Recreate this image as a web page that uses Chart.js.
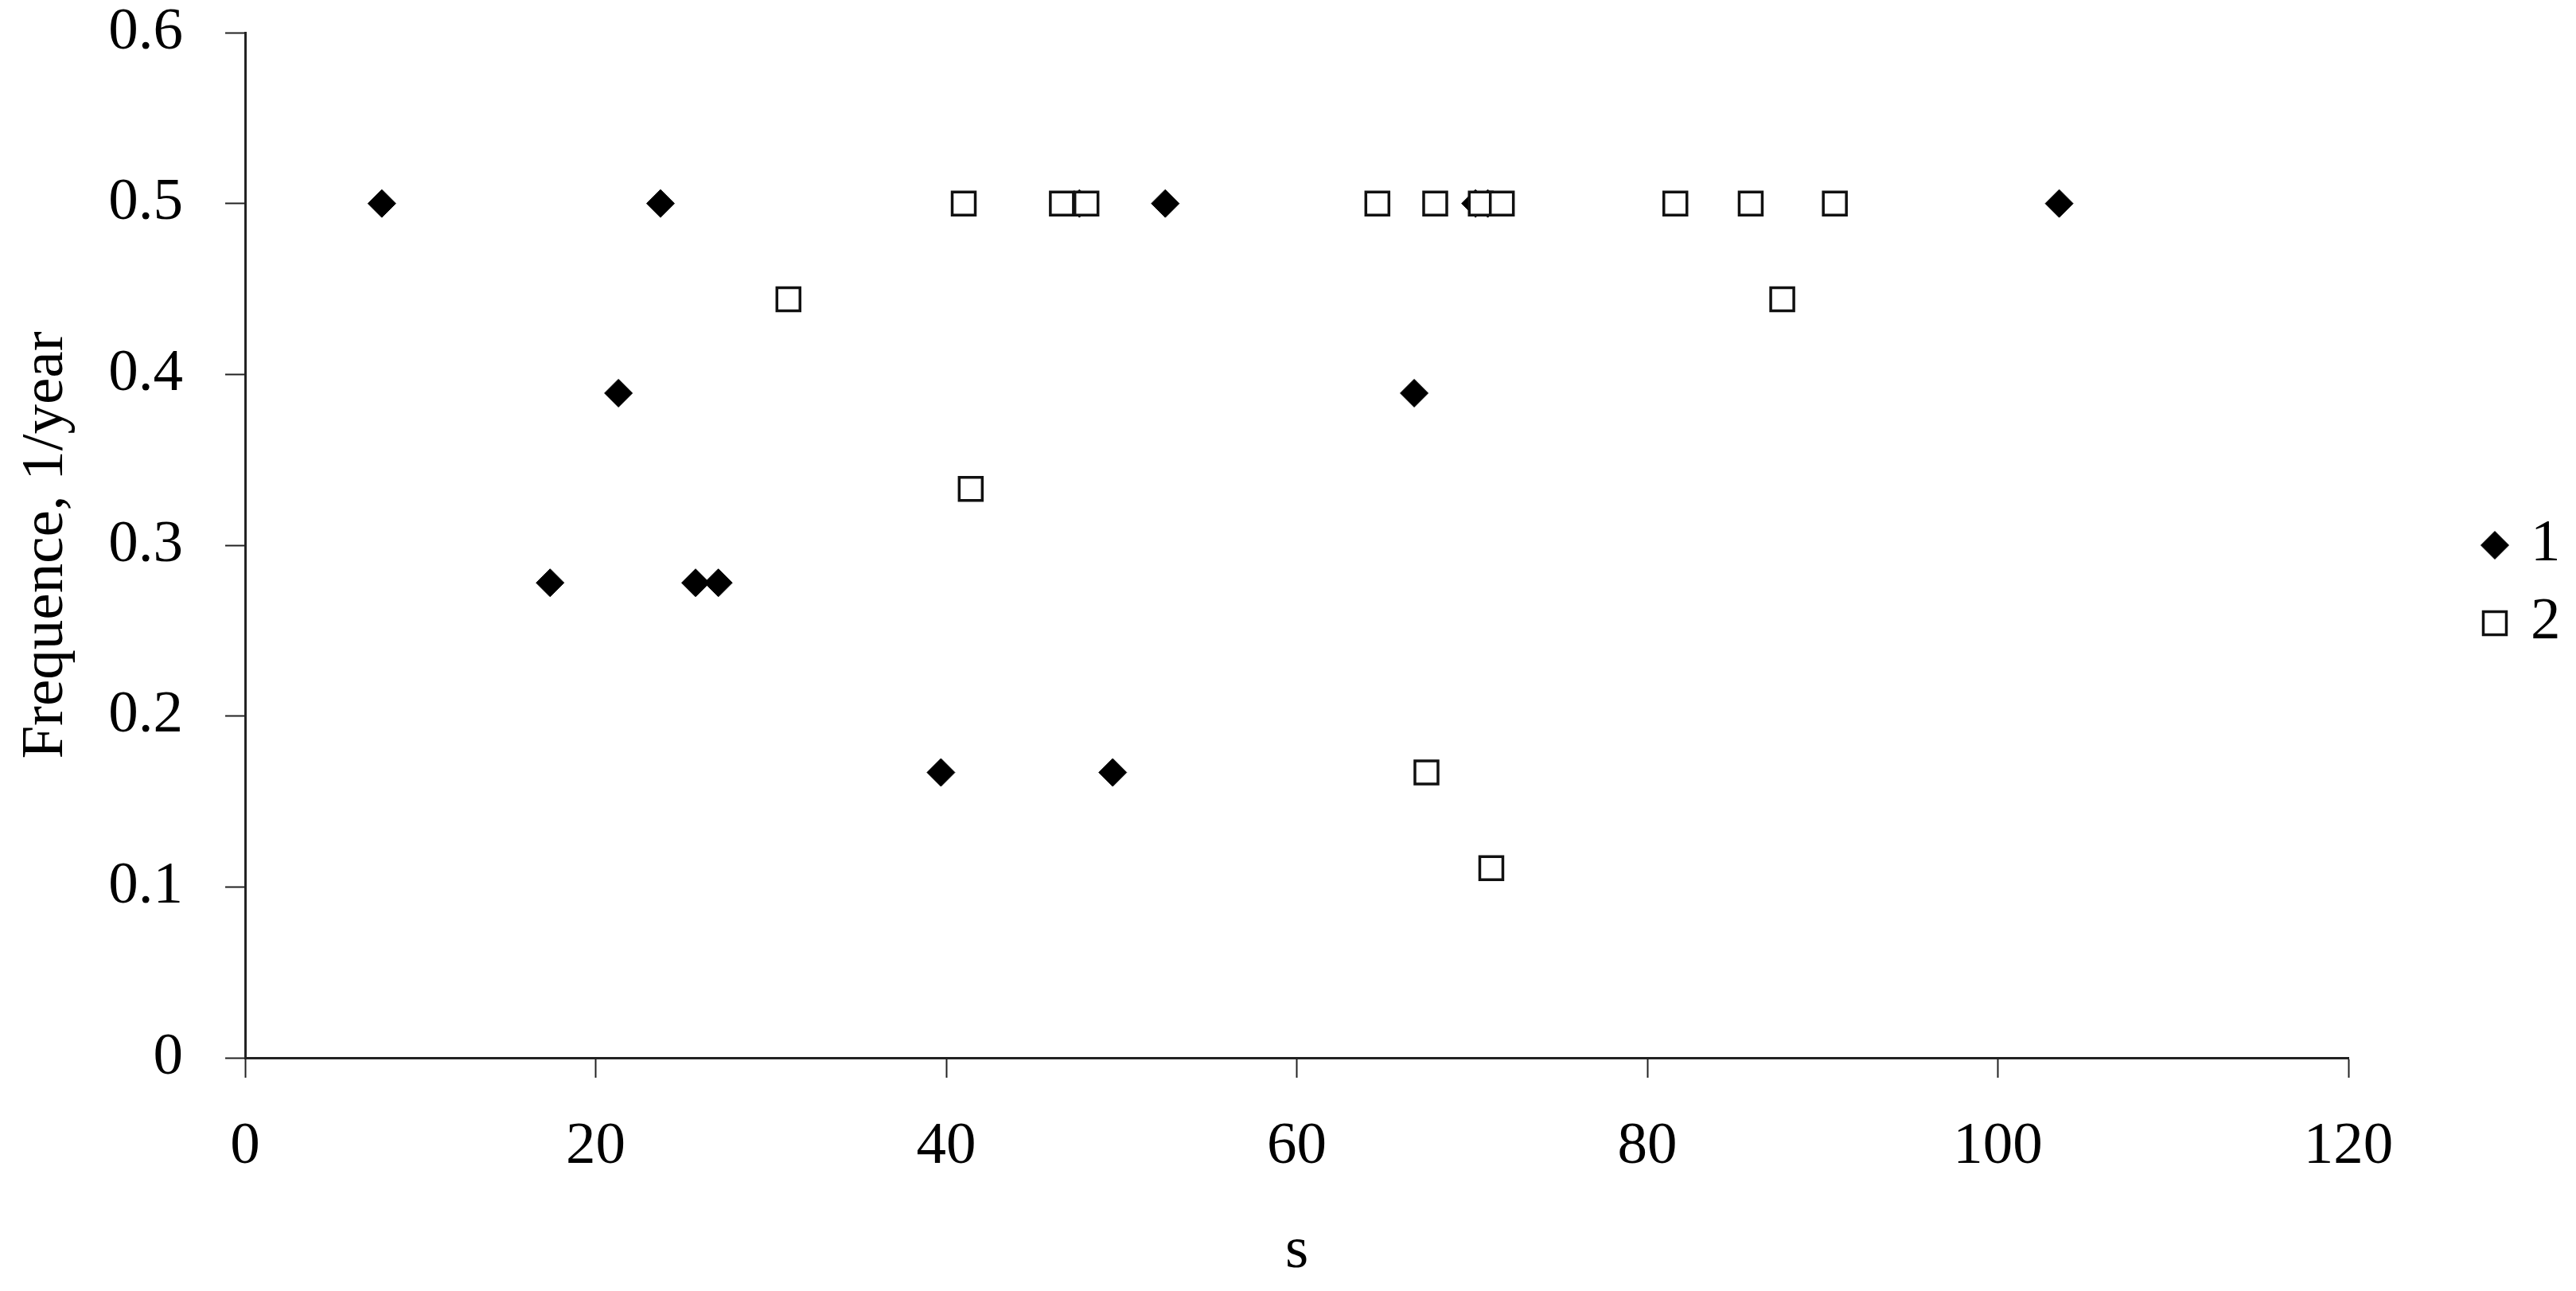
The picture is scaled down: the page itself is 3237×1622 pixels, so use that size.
<!DOCTYPE html>
<html>
<head>
<meta charset="utf-8">
<title>Frequence vs s</title>
<script src="https://cdn.jsdelivr.net/npm/chart.js@4/dist/chart.umd.min.js"></script>
<style>
  html,body{margin:0;padding:0;background:#fff;}
  #wrap{width:3237px;height:1622px;}
</style>
</head>
<body>
<div id="wrap"><canvas id="ch" width="3237" height="1622"></canvas></div>
<script>
// ===== data =====
// series 1: filled diamonds
const s1Label='1';
const s1X=[7.8,17.4,21.3,23.7,25.7,27.0,39.7,47.6,49.5,52.5,66.7,70.2,70.9,103.5];
const s1Y=[0.5,0.278,0.389,0.5,0.278,0.278,0.167,0.5,0.167,0.5,0.389,0.5,0.5,0.5];
// series 2: hollow squares
const s2Label='2';
const s2X=[31.0,41.0,41.4,46.6,48.0,64.6,67.4,67.9,70.5,71.1,71.7,81.6,85.9,87.7,90.7];
const s2Y=[0.444,0.5,0.333,0.5,0.5,0.5,0.167,0.5,0.5,0.111,0.5,0.5,0.5,0.444,0.5];
// axes
const xTicks=[0,20,40,60,80,100,120];
const xTickLabels=['0','20','40','60','80','100','120'];
const yTicks=[0,0.1,0.2,0.3,0.4,0.5,0.6];
const yTickLabels=['0','0.1','0.2','0.3','0.4','0.5','0.6'];
const xTitle='s';
const yTitle='Frequence, 1/year';

// ===== style =====
const FONT_FAMILY="'Liberation Serif','Times New Roman',serif";
const INK='#000', AXIS='#222';
const pts=(xs,ys)=>xs.map((x,i)=>({x,y:ys[i]}));
const lblOf=(vals,labels)=>v=>{ const i=vals.findIndex(t=>Math.abs(t-v)<1e-9); return i<0?'':labels[i]; };
// fixed plot box: no extra room taken for overhanging tick labels
const noPad=s=>{ s.paddingTop=0; s.paddingBottom=0; s.paddingLeft=0; s.paddingRight=0; };

// legend drawn at the right of the plot, like the original
const sideLegend={
  id:'sideLegend',
  afterDraw(chart){
    const {ctx,chartArea}=chart;
    const rows=[{dy:0},{dy:98}];
    ctx.save();
    chart.data.datasets.forEach((ds,i)=>{
      const cx=chartArea.right+184, cy=685+rows[i].dy;
      ctx.fillStyle=ds.backgroundColor; ctx.strokeStyle=ds.borderColor; ctx.lineWidth=ds.borderWidth;
      Chart.helpers.drawPoint(ctx,{pointStyle:ds.pointStyle,radius:ds.pointRadius,borderWidth:ds.borderWidth,rotation:0},cx,cy);
      ctx.fillStyle=INK; ctx.font='75px '+FONT_FAMILY; ctx.textAlign='left'; ctx.textBaseline='middle';
      ctx.fillText(ds.label,chartArea.right+229,cy-1);
    });
    ctx.restore();
  }
};

new Chart(document.getElementById('ch'),{
  type:'scatter',
  data:{datasets:[
    {label:s1Label,data:pts(s1X,s1Y),pointStyle:'rectRot',pointRadius:17.5,pointHoverRadius:17.5,
     backgroundColor:'#000',borderColor:'#000',borderWidth:1,order:1},
    {label:s2Label,data:pts(s2X,s2Y),pointStyle:'rect',pointRadius:20.5,pointHoverRadius:20.5,
     backgroundColor:'#fff',borderColor:'#111',borderWidth:3.5,order:0}
  ]},
  options:{
    responsive:false, animation:false, devicePixelRatio:1,
    layout:{padding:{left:0,top:41,right:286,bottom:0}},
    plugins:{legend:{display:false},tooltip:{enabled:false}},
    scales:{
      x:{type:'linear',min:0,max:120,
        afterFit:s=>{ s.height=293; noPad(s); },
        afterBuildTicks:s=>{ s.ticks=xTicks.map(v=>({value:v})); },
        grid:{drawOnChartArea:false,tickLength:25,tickColor:AXIS,tickWidth:2},
        border:{display:true,color:AXIS,width:3},
        ticks:{callback:lblOf(xTicks,xTickLabels),color:INK,padding:50,maxRotation:0,autoSkip:false,
          font:{family:FONT_FAMILY,size:75,lineHeight:1}},
        title:{display:true,text:xTitle,color:INK,padding:{top:0,bottom:12},font:{family:FONT_FAMILY,size:75,lineHeight:1}}
      },
      y:{type:'linear',min:0,max:0.6,
        afterFit:s=>{ s.width=308; noPad(s); },
        afterBuildTicks:s=>{ s.ticks=yTicks.map(v=>({value:v})); },
        grid:{drawOnChartArea:false,tickLength:25,tickColor:AXIS,tickWidth:2},
        border:{display:true,color:AXIS,width:3},
        ticks:{callback:lblOf(yTicks,yTickLabels),color:INK,padding:53,autoSkip:false,
          font:{family:FONT_FAMILY,size:75,lineHeight:1}},
        title:{display:true,text:yTitle,color:INK,padding:{top:21,bottom:0},font:{family:FONT_FAMILY,size:75,lineHeight:1}}
      }
    }
  },
  plugins:[sideLegend]
});
</script>
</body>
</html>
